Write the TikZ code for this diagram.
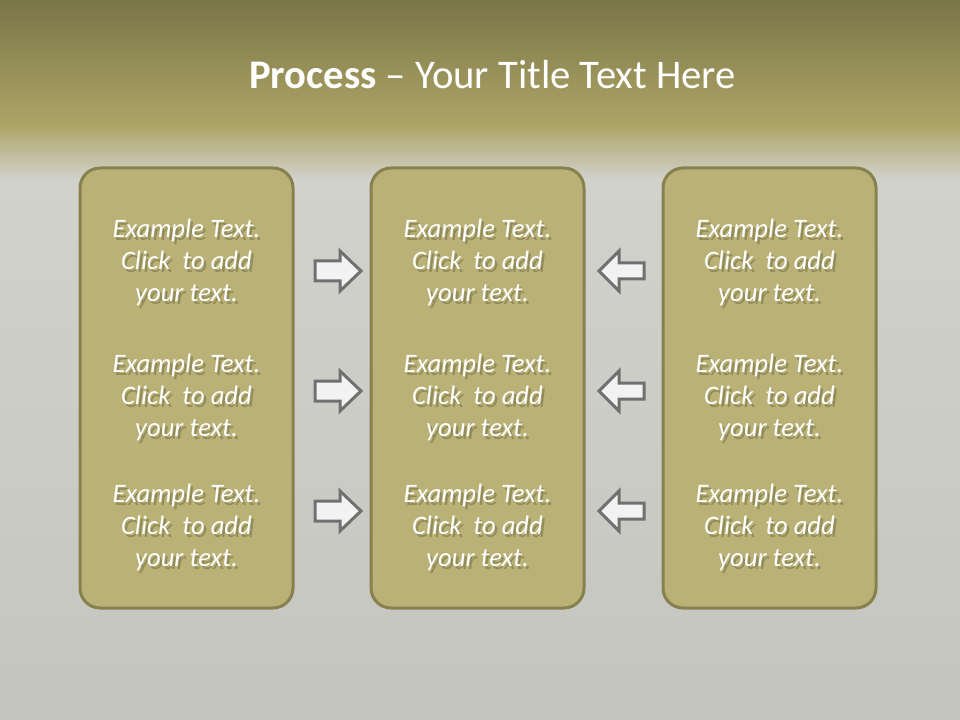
\documentclass[tikz,border=0pt]{standalone}
\usepackage{fontspec}
\setmainfont{Carlito}
\usetikzlibrary{calc}
\definecolor{topdark}{HTML}{7A7548}
\definecolor{toplight}{HTML}{ADA566}
\definecolor{grayA}{HTML}{D2D2CD}
\definecolor{grayB}{HTML}{C5C5BF}
\definecolor{boxfill}{HTML}{B9B176}
\definecolor{boxline}{HTML}{878150}
\definecolor{arrline}{HTML}{707070}
\definecolor{arrfill}{HTML}{F2F2F2}
\definecolor{shadowcol}{HTML}{4A4628}
\tikzset{
  box/.style={draw=boxline, fill=boxfill, line width=2.25pt, rounded corners=15pt,
    minimum width=159.75pt, minimum height=330pt, inner sep=0pt},
  bodytext/.style={font=\fontsize{20}{24}\selectfont\itshape, text=white, align=center, inner sep=0pt},
  shadowtext/.style={bodytext, text=shadowcol, opacity=0.35},
  blockarrow/.style={draw=arrline, fill=arrfill, line width=2.25pt, line join=miter},
}
\newcommand\stxt[3]{%
  \node[shadowtext] (#1s) at ($(#2,#3)+(2.5,3)$) {Example Text.\\Click\ \ to add\\your text.};
  \node[bodytext] (#1) at (#2,#3) {Example Text.\\Click\ \ to add\\your text.};
}
\begin{document}
\begin{tikzpicture}[x=0.75pt,y=-0.75pt]
\useasboundingbox (0,0) rectangle (960,720);
% background
\shade[top color=topdark, bottom color=toplight] (0,0) rectangle (960,125);
\shade[top color=toplight, bottom color=grayA] (0,125) rectangle (960,180);
\shade[top color=grayA, bottom color=grayB] (0,180) rectangle (960,720);
% title
\node[font=\fontsize{30.5}{36}\selectfont, text=white, inner sep=0pt] (title) at (492.5,75)
  {\textbf{Process} – Your Title Text Here};
% boxes
\node[box] (L) at (186.5,388) {};
\node[box] (M) at (477.5,388) {};
\node[box] (R) at (769.5,388) {};
% texts
\stxt{L1}{186.5}{262.5}
\stxt{L2}{186.5}{397.5}
\stxt{L3}{186.5}{527.5}
\stxt{M1}{477.5}{262.5}
\stxt{M2}{477.5}{397.5}
\stxt{M3}{477.5}{527.5}
\stxt{R1}{769.5}{262.5}
\stxt{R2}{769.5}{397.5}
\stxt{R3}{769.5}{527.5}
% arrows
\foreach \yy in {271,391,511}{
  \draw[blockarrow] (315,\yy-10) -- (340,\yy-10) -- (340,\yy-20) -- (361,\yy) -- (340,\yy+20) -- (340,\yy+10) -- (315,\yy+10) -- cycle;
  \draw[blockarrow] (644,\yy-8) -- (619,\yy-8) -- (619,\yy-20) -- (599,\yy) -- (619,\yy+20) -- (619,\yy+8) -- (644,\yy+8) -- cycle;
}
\end{tikzpicture}
\end{document}
